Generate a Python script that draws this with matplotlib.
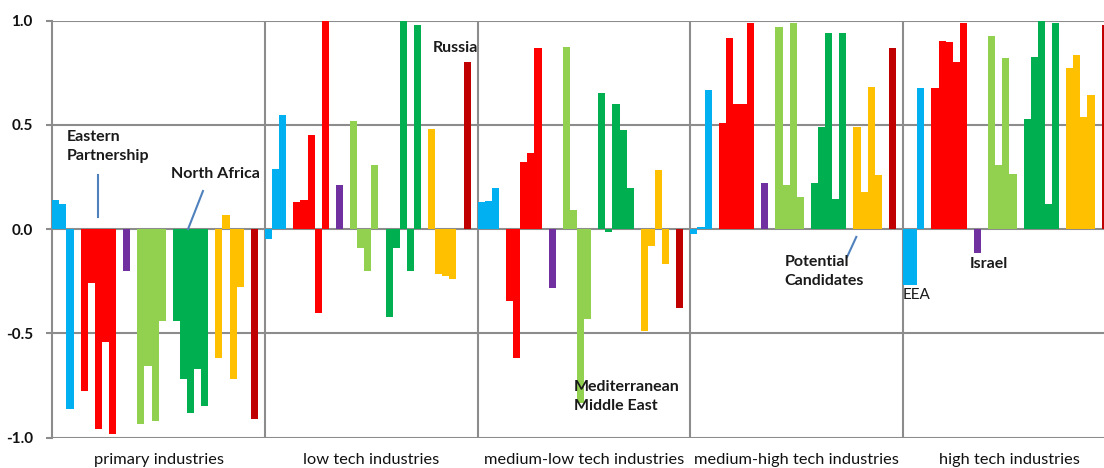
import matplotlib
matplotlib.use("Agg")
import matplotlib.pyplot as plt
import numpy as np

# ---------------- data ----------------
industries = ["primary industries", "low tech industries", "medium-low tech industries",
              "medium-high tech industries", "high tech industries"]
regions = ["EEA", "Eastern Partnership", "Israel", "Mediterranean Middle East",
           "North Africa", "Potential Candidates", "Russia"]
region_counts = [3, 5, 1, 4, 5, 4, 1]
region_colors = ["#00B0F0", "#FF0000", "#7030A0", "#92D050", "#00B050", "#FFC000", "#C00000"]

primary = [0.14, 0.12, -0.86, -0.775, -0.26, -0.96, -0.54, -0.98, -0.20, -0.935, -0.655, -0.92,
           -0.44, -0.44, -0.72, -0.88, -0.67, -0.85, -0.62, 0.07, -0.72, -0.275, -0.91]
low_tech = [-0.045, 0.29, 0.55, 0.13, 0.14, 0.45, -0.40, 1.0, 0.21, 0.52, -0.09, -0.20, 0.31,
            -0.42, -0.09, 1.0, -0.20, 0.98, 0.48, -0.215, -0.225, -0.24, 0.80]
medium_low = [0.13, 0.135, 0.20, -0.345, -0.62, 0.32, 0.365, 0.87, -0.28, 0.875, 0.09, -0.835,
              -0.43, 0.655, -0.015, 0.60, 0.475, 0.20, -0.49, -0.08, 0.285, -0.165, -0.38]
medium_high = [-0.025, 0.01, 0.67, 0.51, 0.915, 0.60, 0.60, 0.99, 0.22, 0.97, 0.21, 0.99, 0.155,
               0.22, 0.49, 0.94, 0.145, 0.94, 0.49, 0.18, 0.68, 0.26, 0.87]
high_tech = [-0.27, -0.27, 0.675, 0.675, 0.905, 0.90, 0.80, 0.99, -0.115, 0.925, 0.31, 0.82,
             0.265, 0.53, 0.825, 1.0, 0.12, 0.99, 0.775, 0.835, 0.54, 0.645, 0.98]
series = [primary, low_tech, medium_low, medium_high, high_tech]

yticks = [-1.0, -0.5, 0.0, 0.5, 1.0]
ytick_labels = ["-1.0", "-0.5", "0.0", "0.5", "1.0"]

# ---------------- layout ----------------
plt.rcParams["font.family"] = ["Lato", "DejaVu Sans"]
W, H = 1104, 468
fig = plt.figure(figsize=(W / 100, H / 100), dpi=100)
left_px, top_px, bot_px = 52.3, 20.7, 437.7
panel_px = 212.7
ax = fig.add_axes([left_px / W, (H - bot_px) / H, 5 * panel_px / W, (bot_px - top_px) / H])

slots_per_panel = sum(region_counts) + len(region_counts)  # one empty slot after each group
grid_col = "#8C8C8C"

for p, vals in enumerate(series):
    base = p * slots_per_panel
    k = 0
    slot = 0
    for g, n in enumerate(region_counts):
        xs = [base + slot + i for i in range(n)]
        ax.bar(xs, vals[k:k + n], width=1.0, color=region_colors[g], linewidth=0, zorder=3)
        k += n
        slot += n + 1

ax.set_xlim(-0.5, 5 * slots_per_panel - 0.5)
ax.set_ylim(-1, 1)

for y in yticks:
    ax.axhline(y, color=grid_col, lw=1.5, zorder=1)
for p in range(1, 5):
    ax.axvline(p * slots_per_panel - 0.5, color=grid_col, lw=1.5, zorder=1)

for s in ["top", "right", "bottom"]:
    ax.spines[s].set_visible(False)
ax.spines["left"].set_color(grid_col)
ax.spines["left"].set_linewidth(1.5)

ax.set_yticks(yticks)
ax.set_yticklabels(ytick_labels, fontsize=11, fontweight="bold", color="#111111")
ax.tick_params(axis="y", length=4, width=1.5, color=grid_col, pad=10)

ax.set_xticks([p * slots_per_panel + (slots_per_panel - 1) / 2 for p in range(5)])
ax.set_xticklabels(industries, fontsize=11.8, color="#111111")
ax.tick_params(axis="x", length=0, pad=11)

# ---------------- annotations ----------------
txt_kw = dict(fontsize=11.5, fontweight="bold", color="#1a1a1a", va="top", ha="left",
              linespacing=1.45, zorder=5)
lead = dict(color="#4F81BD", lw=1.5, zorder=4)
ax.text(1.57, 0.475, "Eastern\nPartnership", **txt_kw)
ax.plot([5.95, 5.95], [0.26, 0.06], **lead)
ax.text(16.2, 0.30, "North Africa", **txt_kw)
ax.plot([20.75, 18.64], [0.183, 0.0], **lead)
ax.text(53.2, 0.905, "Russia", **txt_kw)
ax.text(73.1, -0.725, "Mediterranean\nMiddle East", **txt_kw)
ax.text(102.8, -0.125, "Potential\nCandidates", **txt_kw)
ax.plot([112.9, 111.6], [-0.037, -0.133], **lead)
ax.text(119.5, -0.28, "EEA", fontsize=11, color="#1a1a1a", va="top", ha="left", zorder=5)
ax.text(128.9, -0.135, "Israel", **txt_kw)

fig.savefig("out.png", dpi=100)
